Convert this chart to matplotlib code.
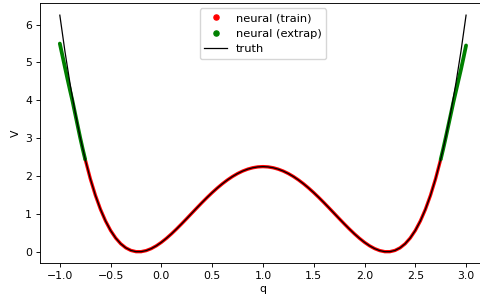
import matplotlib
matplotlib.use("Agg")
import matplotlib.pyplot as plt
from matplotlib.lines import Line2D

# Theme, scaled down to match the small output
small_theme = {
    "font.size": 7.8,
    "axes.linewidth": 0.65,
    "xtick.major.width": 0.65,
    "ytick.major.width": 0.65,
    "xtick.major.size": 2.7,
    "ytick.major.size": 2.7,
    "xtick.major.pad": 2.7,
    "ytick.major.pad": 2.7,
    "legend.fontsize": 8.2,
}
matplotlib.rcParams.update(small_theme)

# truth curve, q from -1 to 3 in steps of 0.05
truth_q = [round(-1 + 0.05 * i, 3) for i in range(81)]
half = [2.25, 2.2425, 2.2201, 2.1830, 2.1316, 2.0664, 1.9881, 1.8975, 1.7956,
        1.6835, 1.5625, 1.4340, 1.2996, 1.1610, 1.0201, 0.8789, 0.7396, 0.6045,
        0.4761, 0.3570, 0.25, 0.1580, 0.0841, 0.0315, 0.0036, 0.0039, 0.0361,
        0.1040, 0.2116, 0.3630, 0.5625, 0.8145, 1.1236, 1.4945, 1.9321, 2.4414,
        3.0276, 3.6960, 4.4521, 5.3015, 6.25]
truth_v = half[::-1] + half[1:]

# neural net on the training range (-0.75 .. 2.75)
train_q = truth_q[5:76]
train_v = truth_v[5:76]

# neural net extrapolation at both ends
extrap_left_q = [-1.0, -0.975, -0.95, -0.925, -0.9, -0.875, -0.85, -0.825, -0.8, -0.775, -0.75]
extrap_left_v = [5.50, 5.19, 4.88, 4.57, 4.27, 3.98, 3.66, 3.34, 3.02, 2.72, 2.44]
extrap_right_q = [2.75, 2.775, 2.8, 2.825, 2.85, 2.875, 2.9, 2.925, 2.95, 2.975, 3.0]
extrap_right_v = [2.44, 2.72, 3.02, 3.33, 3.64, 3.95, 4.24, 4.53, 4.82, 5.13, 5.45]

fig = plt.figure(figsize=(4.8, 2.97), dpi=100)
# right edge of the axes sits just past the figure edge, as in the original crop
ax = fig.add_axes([0.0823, 0.1128, 0.931, 0.876])
ax.set_xlim(-1.2, 3.2)
ax.spines["right"].set_visible(False)

# dense markers in the original, drawn as thick bands here
ax.plot(train_q, train_v, color="red", lw=2.4, solid_capstyle="round")
ax.plot(extrap_left_q, extrap_left_v, color="green", lw=2.7, solid_capstyle="round")
ax.plot(extrap_right_q, extrap_right_v, color="green", lw=2.7, solid_capstyle="round")
ax.plot(truth_q, truth_v, color="black", lw=0.9)

ax.set_xlabel("q", labelpad=2)
ax.set_ylabel("V", labelpad=3)

handles = [
    Line2D([], [], ls="", marker="o", ms=3.7, color="red"),
    Line2D([], [], ls="", marker="o", ms=3.7, color="green"),
    Line2D([], [], color="black", lw=0.9),
]
ax.legend(handles, ["neural (train)", "neural (extrap)", "truth"], loc="upper center",
          borderaxespad=0.45)

fig.savefig("out.png", dpi=100)
